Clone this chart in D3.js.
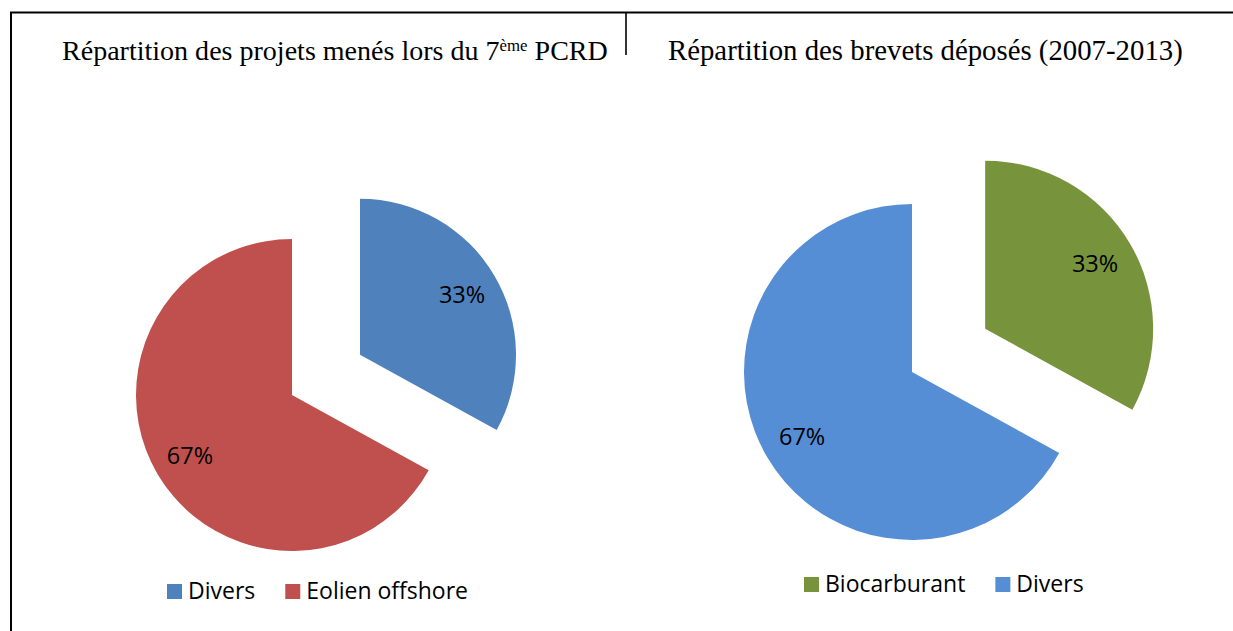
<!DOCTYPE html>
<html>
<head>
<meta charset="utf-8">
<script src="https://cdn.jsdelivr.net/npm/d3@7"></script>
<style>
  html, body { margin: 0; padding: 0; background: #fff; }
  svg { display: block; }
</style>
</head>
<body>
<svg id="chart" width="1233" height="631"></svg>
<script>
// Left chart: projects of the 7th framework programme
const projetsCategories = ["Divers", "Eolien offshore"];
const projetsValues = [33, 67];
const projetsColors = ["#4F81BD", "#C0504D"];

// Right chart: patents filed 2007-2013
const brevetsCategories = ["Biocarburant", "Divers"];
const brevetsValues = [33, 67];
const brevetsColors = ["#77933C", "#558ED5"];

const svg = d3.select("#chart");

// Frame lines
svg.append("line").attr("x1", 10).attr("x2", 1233).attr("y1", 12.5).attr("y2", 12.5)
  .attr("stroke", "#000").attr("stroke-width", 2);
svg.append("line").attr("x1", 11).attr("x2", 11).attr("y1", 12).attr("y2", 631)
  .attr("stroke", "#000").attr("stroke-width", 2);
svg.append("line").attr("x1", 626).attr("x2", 626).attr("y1", 12).attr("y2", 55)
  .attr("stroke", "#000").attr("stroke-width", 1.6);

const serif = "'Liberation Serif', 'DejaVu Serif', serif";
const sans = "'Open Sans', 'Liberation Sans', sans-serif";

// Fit a text element to a given width by adjusting font-size
function fitWidth(sel, width) {
  const node = sel.node();
  const fs = parseFloat(sel.attr("font-size"));
  const w = node.getComputedTextLength();
  sel.attr("font-size", fs * width / w);
}

// Titles
const t1 = svg.append("text").attr("x", 62).attr("y", 60)
  .attr("font-family", serif).attr("font-size", 24).attr("fill", "#000");
t1.append("tspan").text("Répartition des projets menés lors du 7");
t1.append("tspan").text("ème").attr("font-size", "0.6em").attr("dy", -9);
t1.append("tspan").text(" PCRD").attr("dy", 9);
fitWidth(t1, 546);

const t2 = svg.append("text").attr("x", 668).attr("y", 60)
  .attr("font-family", serif).attr("font-size", 24).attr("fill", "#000")
  .text("Répartition des brevets déposés (2007-2013)");
fitWidth(t2, 515);

function drawPie(cfg) {
  const pie = d3.pie().sort(null).value(d => d.value).startAngle(0).endAngle(2 * Math.PI);
  const data = cfg.categories.map((c, i) => ({ name: c, value: cfg.values[i], color: cfg.colors[i] }));
  const arcs = pie(data);
  const total = d3.sum(cfg.values);
  const arc = d3.arc().innerRadius(0).outerRadius(cfg.r);
  const labelArc = d3.arc().innerRadius(cfg.r * 0.76).outerRadius(cfg.r * 0.76);
  const g = svg.append("g").attr("transform", `translate(${cfg.cx},${cfg.cy})`);

  const slices = g.selectAll("g.slice").data(arcs).join("g")
    .attr("class", "slice")
    .attr("transform", d => {
      if (d.index !== cfg.explodeIndex) return null;
      const mid = (d.startAngle + d.endAngle) / 2;
      return `translate(${Math.sin(mid) * cfg.explode},${-Math.cos(mid) * cfg.explode})`;
    });

  slices.append("path").attr("d", arc).attr("fill", d => d.data.color);
  slices.append("text")
    .attr("transform", d => `translate(${labelArc.centroid(d)})`)
    .attr("text-anchor", "middle").attr("dy", "0.36em")
    .attr("font-family", sans).attr("font-size", 23.5).attr("fill", "#000")
    .text(d => Math.round(d.value / total * 100) + "%");

  // Legend
  const lg = svg.append("g").attr("transform", `translate(${cfg.legendX},${cfg.legendY})`);
  let x = 0;
  data.forEach((d, i) => {
    lg.append("rect").attr("x", x).attr("y", -15).attr("width", 15).attr("height", 15).attr("fill", d.color);
    const t = lg.append("text").attr("x", x + 21).attr("y", 0)
      .attr("font-family", sans).attr("font-size", 23).attr("fill", "#000").text(d.name);
    x += 21 + t.node().getComputedTextLength() + cfg.legendGap;
  });
}

drawPie({
  categories: projetsCategories, values: projetsValues, colors: projetsColors,
  cx: 292, cy: 395, r: 156, explode: 79, explodeIndex: 0,
  legendX: 167, legendY: 599, legendGap: 30
});

drawPie({
  categories: brevetsCategories, values: brevetsValues, colors: brevetsColors,
  cx: 912, cy: 372, r: 168, explode: 85, explodeIndex: 0,
  legendX: 804, legendY: 592, legendGap: 30
});
</script>
</body>
</html>
